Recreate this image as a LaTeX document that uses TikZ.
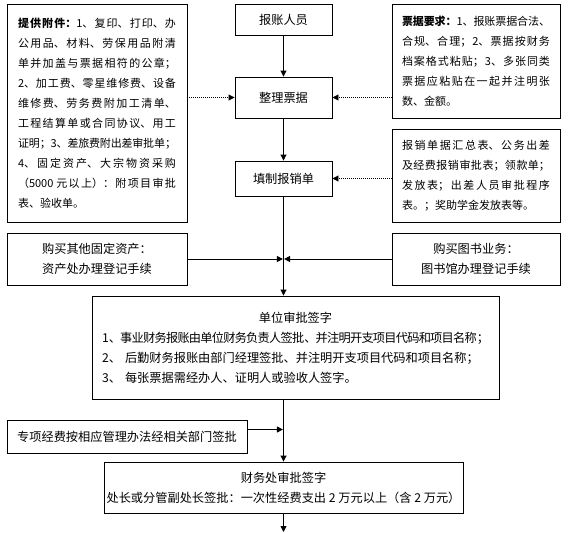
\documentclass[tikz,border=0pt]{standalone}
\usepackage{fontspec}
\setmainfont{Noto Sans CJK SC}
\usetikzlibrary{arrows.meta}
\XeTeXlinebreaklocale "zh"
\XeTeXlinebreakskip=0pt plus 4pt minus 1pt
\XeTeXlinebreakpenalty=10000

\begin{document}
\begin{tikzpicture}[
    x=1pt, y=-1pt,
    box/.style={draw=black, line width=0.9pt, inner sep=0pt, align=center, font=\fontsize{12.2}{20}\selectfont},
    notebox/.style={draw=black, line width=0.9pt, inner xsep=10pt, inner ysep=0pt, align=justify, font=\fontsize{11}{20}\selectfont},
    flow/.style={-{Triangle[length=6pt,width=6pt]}, line width=0.9pt},
    hint/.style={flow, dash pattern=on 1pt off 1pt}
]
    \useasboundingbox (0,0) rectangle (584,533);

    % --- TOP: MAIN COLUMN ---
    \node[box, minimum width=97pt, minimum height=31pt] (baozhang) at (283.5,19.5) {报账人员};
    \node[box, minimum width=97pt, minimum height=41pt] (zhengli) at (283.5,97.5) {整理票据};
    \node[box, minimum width=97pt, minimum height=35pt] (tianzhi) at (283.5,178.5) {填制报销单};

    \draw[flow] (baozhang) -- (zhengli);
    \draw[flow] (zhengli) -- (tianzhi);

    % --- SIDE NOTES ---
    \node[notebox, text width=158pt, inner xsep=11pt, minimum height=218pt] (fujian) at (97,113) {%
        \textbf{提供附件：}1、复印、打印、办\linebreak
        公用品、材料、劳保用品附清\linebreak
        单并加盖与票据相符的公章；\linebreak
        2、加工费、零星维修费、设备\linebreak
        维修费、劳务费附加工清单、\linebreak
        工程结算单或合同协议、用工\linebreak
        证明；3、差旅费附出差审批单；\linebreak
        4、固定资产、大宗物资采购\linebreak
        （5000 元以上）：附项目审批\linebreak
        表、验收单。};
    \node[notebox, text width=148pt, minimum height=114pt] (yaoqiu) at (476,61) {%
        \textbf{票据要求：}1、报账票据合法、\linebreak
        合规、合理；2、票据按财务\linebreak
        档案格式粘贴；3、多张同类\linebreak
        票据应粘贴在一起并注明张\linebreak
        数、金额。};
    \node[notebox, text width=148pt, minimum height=93pt] (danju) at (476,175.5) {%
        报销单据汇总表、公务出差\linebreak
        及经费报销审批表；领款单；\linebreak
        发放表；出差人员审批程序\linebreak
        表。；奖助学金发放表等。};

    \draw[hint] (fujian.east |- zhengli.west) -- (zhengli.west);
    \draw[hint] (yaoqiu.west |- zhengli.east) -- (zhengli.east);
    \draw[hint] (danju.west |- tianzhi.east) -- (tianzhi.east);

    % --- MIDDLE: PURCHASES AND UNIT APPROVAL ---
    \node[box, minimum width=180pt, minimum height=52pt] (zichan) at (97,259) {购买其他固定资产：\\资产处办理登记手续};
    \node[box, minimum width=168pt, minimum height=52pt] (tushu) at (476,259) {购买图书业务：\\图书馆办理登记手续};
    \node[box, align=left, text width=387pt, inner xsep=10pt, minimum height=103pt] (danwei) at (295.5,347.5) {%
        \makebox[\linewidth]{单位审批签字}\\
        1、事业财务报账由单位财务负责人签批、并注明开支项目代码和项目名称；\\
        2、 后勤财务报账由部门经理签批、并注明开支项目代码和项目名称；\\
        3、 每张票据需经办人、证明人或验收人签字。};

    \coordinate (hui) at (tianzhi.south |- zichan.east);
    \draw[flow] (tianzhi.south) -- (tianzhi.south |- danwei.north);
    \draw[flow] (zichan.east) -- ([xshift=-0.6pt]hui);
    \draw[flow] (tushu.west) -- ([xshift=0.6pt]hui);

    % --- BOTTOM: FINANCE OFFICE ---
    \node[box, minimum width=240pt, minimum height=33pt] (zhuanxiang) at (127,436.5) {专项经费按相应管理办法经相关部门签批};
    \node[box, minimum width=359pt, minimum height=51pt] (caiwu) at (283.5,487.5) {财务处审批签字\\处长或分管副处长签批：一次性经费支出 2 万元以上（含 2 万元）};

    \coordinate (he) at ([yshift=7pt]tianzhi.south |- zhuanxiang.east);
    \coordinate (zhong) at (283.5,532);
    \draw[flow] (danwei.south -| caiwu.north) -- (caiwu.north);
    \draw[flow] (zhuanxiang.east |- he) -- ([xshift=-0.6pt]he);
    \draw[flow] (caiwu) -- (zhong);
\end{tikzpicture}
\end{document}
